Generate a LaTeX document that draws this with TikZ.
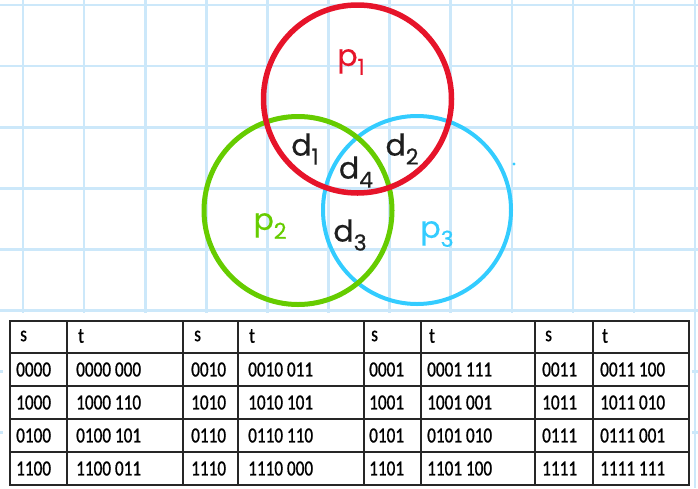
\documentclass[tikz,border=0pt]{standalone}
\usepackage{fontspec}
\setmainfont{Poppins}
\newfontfamily\handfont[FakeBold=0.6]{Poppins}
\newfontfamily\tabfont[FakeStretch=0.8, FakeBold=0.9]{Carlito}
\definecolor{gridblue}{RGB}{204,232,250}
\definecolor{pred}{RGB}{230,20,42}
\definecolor{pgreen}{RGB}{102,204,0}
\definecolor{pcyan}{RGB}{51,204,255}
\definecolor{ink}{RGB}{30,30,30}
\tikzset{
    gridline/.style={
        draw=gridblue,
        line width=2.6pt
    },
    ring/.style={
        circle,
        draw=#1,
        minimum size=188pt,
        inner sep=0pt
    },
    hand/.style={
        inner sep=0pt,
        text=ink,
        font=\handfont\fontsize{30}{30}\selectfont
    },
    cell/.style={
        anchor=west,
        inner sep=0pt,
        font=\tabfont\fontsize{21.5}{24}\selectfont
    },
    tabline/.style={
        draw=black!85,
        line width=1.2pt
    },
    tabframe/.style={
        draw=black!85,
        line width=2pt
    }
}
\newcommand{\hwsub}[2]{#1\raisebox{-0.3em}{\fontsize{22}{22}\selectfont #2}}

\begin{document}
\begin{tikzpicture}[x=1pt, y=-1pt]
\useasboundingbox (0,0) rectangle (698,488);

% Graph paper
\foreach \gx in {23,84.1,...,700} \draw[gridline] (\gx,0) -- (\gx,488);
\foreach \gy in {5,66.1,...,490} \draw[gridline] (0,\gy) -- (698,\gy);

% Parity circles
\node[ring=pcyan, line width=4pt] (c3) at (417,210) {};
\node[ring=pgreen, line width=5pt] (c2) at (298,210.5) {};
\node[ring=pred, line width=5.5pt] (c1) at (357.5,99) {};
\fill[pcyan] (514,164) circle (1.6pt);

% Labels
\node[hand, text=pred] (p1) at (351,62) {\hwsub{p}{1}};
\node[hand, text=pgreen] (p2) at (270,226) {\hwsub{p}{2}};
\node[hand, text=pcyan] (p3) at (437,234) {\hwsub{p}{3}};
\node[hand] (d1) at (305,149) {\hwsub{d}{1}};
\node[hand] (d2) at (402,149) {\hwsub{d}{2}};
\node[hand] (d4) at (356,172) {\hwsub{d}{4}};
\node[hand] (d3) at (350,235) {\hwsub{d}{3}};

% Table
\fill[white] (3,313) rectangle (692,488);
\foreach \ry in {353,386,419,452} \draw[tabline] (10,\ry) -- (689,\ry);
\foreach \cx in {67,238,421,593} \draw[tabline] (\cx,321) -- (\cx,485);
\foreach \cx in {183,364,535} \draw[tabframe] (\cx,321) -- (\cx,485);
\draw[tabframe] (10,321) rectangle (689,485);

\foreach \sx/\tx [count=\g] in {18/77,192/248,369/428,543/601} {
    \node[cell] (s\g-0) at (\sx+2,336) {s};
    \node[cell] (t\g-0) at (\tx+1,336) {t};
}

% Group 1
\foreach \c/\p [count=\r] in {0000/000,1000/110,0100/101,1100/011} {
    \node[cell] (s1-\r) at (16,336.5+33*\r) {\c};
    \node[cell] (t1-\r) at (76,336.5+33*\r) {\c\ \p};
}
% Group 2
\foreach \c/\p [count=\r] in {0010/011,1010/101,0110/110,1110/000} {
    \node[cell] (s2-\r) at (191,336.5+33*\r) {\c};
    \node[cell] (t2-\r) at (248,336.5+33*\r) {\c\ \p};
}
% Group 3
\foreach \c/\p [count=\r] in {0001/111,1001/001,0101/010,1101/100} {
    \node[cell] (s3-\r) at (369,336.5+33*\r) {\c};
    \node[cell] (t3-\r) at (427,336.5+33*\r) {\c\ \p};
}
% Group 4
\foreach \c/\p [count=\r] in {0011/100,1011/010,0111/001,1111/111} {
    \node[cell] (s4-\r) at (542,336.5+33*\r) {\c};
    \node[cell] (t4-\r) at (600,336.5+33*\r) {\c\ \p};
}

\end{tikzpicture}
\end{document}
